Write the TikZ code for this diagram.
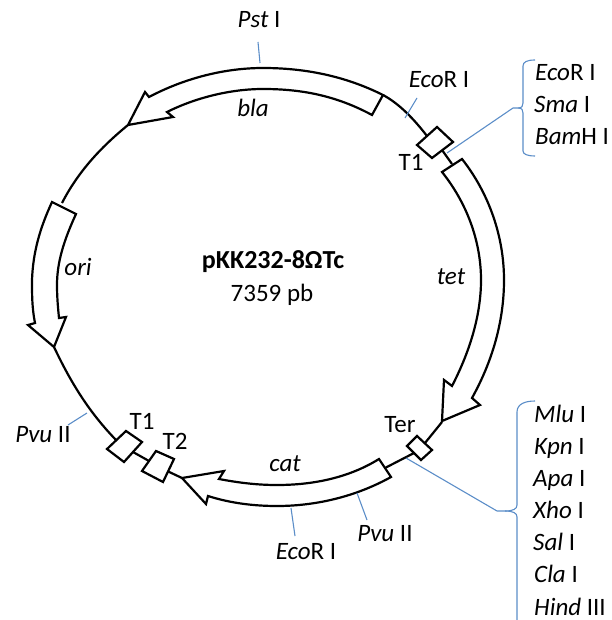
\documentclass[tikz,border=0pt]{standalone}
\usepackage{fontspec}
\setmainfont{Carlito}
\definecolor{linkblue}{RGB}{91,141,200}
\tikzset{
 backbone/.style={draw=black,line width=2.2pt,line join=miter},
 feature/.style={draw=black,line width=2.2pt,line join=miter,fill=white},
 site/.style={draw=linkblue,line width=1.1pt},
 lab/.style={inner sep=0pt,anchor=base,font=\fontsize{25}{27}\selectfont,text=black},
 listlab/.style={lab,anchor=base west}
}
\newcommand{\ita}[1]{\textit{#1}}
\begin{document}
\begin{tikzpicture}[x=1pt,y=-1pt]
\useasboundingbox (0,0) rectangle (611,620);
% backbone
\draw[backbone] (383,95) .. controls (396,102) and (410,114) .. (427,136);
\draw[backbone] (442,150) -- (452,164);
\draw[backbone] (442,422) -- (425,443);
\draw[backbone] (414,453) -- (385,468);
\draw[backbone] (182,478) -- (165,470);
\draw[backbone] (149,461) -- (133,452);
\draw[backbone] (116,440) .. controls (90,413) and (72,385) .. (54,347);
\draw[backbone] (62,203) .. controls (78,172) and (100,148) .. (128,125);
% bla
\draw[feature] (383,95) -- (372,115) .. controls (335,95) and (300,89) .. (263,89)
 .. controls (230,89) and (195,98) .. (167,112) -- (173,117) -- (128,125) -- (145,92) -- (149,97)
 .. controls (185,78) and (225,68) .. (263,68) .. controls (305,68) and (345,76) .. (383,95) -- cycle;
% ori
\draw[feature] (52,202) -- (76,214) .. controls (64,240) and (57,262) .. (57,285)
 .. controls (57,297) and (58,308) .. (59,318) -- (66,317) -- (54,347) -- (28,325) -- (35,323)
 .. controls (32,308) and (32,295) .. (32,280) .. controls (33,252) and (40,228) .. (52,202) -- cycle;
% tet
\draw[feature] (462,159) -- (442,172) .. controls (466,202) and (481,240) .. (481,280)
 .. controls (481,318) and (468,355) .. (452,386) -- (444,380) -- (442,421) -- (480,405) -- (472,398)
 .. controls (492,362) and (504,322) .. (504,280) .. controls (504,235) and (488,192) .. (462,159) -- cycle;
% cat
\draw[feature] (379,459) -- (391,477) .. controls (355,497) and (315,506) .. (277,506)
 .. controls (253,506) and (230,503) .. (208,496) -- (206,504) -- (182,478) -- (224,471) -- (219,479)
 .. controls (240,483) and (258,485) .. (277,485) .. controls (315,485) and (350,477) .. (379,459) -- cycle;
% boxes
\draw[feature] (437,127) -- (453,142) -- (432,158) -- (417,145) -- cycle;
\draw[feature] (417,436) -- (432,450) -- (421,460) -- (407,446) -- cycle;
\draw[feature] (126,431) -- (142,442) -- (124,462) -- (107,449) -- cycle;
\draw[feature] (156,451) -- (174,459) -- (163,482) -- (142,471) -- cycle;
% site lines
\coordinate (pstA) at (258,42); \coordinate (pstB) at (260,63);
\draw[site] (pstA) -- (pstB);
\coordinate (ecoA) at (417,98); \coordinate (ecoB) at (405,118);
\draw[site] (ecoA) -- (ecoB);
\coordinate (pvuA) at (68,425); \coordinate (pvuB) at (87,413);
\draw[site] (pvuA) -- (pvuB);
\coordinate (pvbA) at (357,493); \coordinate (pvbB) at (367,520);
\draw[site] (pvbA) -- (pvbB);
\coordinate (ecbA) at (291,508); \coordinate (ecbB) at (295,536);
\draw[site] (ecbA) -- (ecbB);
% upper brace
\draw[site] (447,153) -- (513,108) -- (518,108) .. controls (522,108) and (523,106) .. (523,103)
 -- (523,66) .. controls (523,62) and (527,60) .. (535,60);
\draw[site] (518,108) .. controls (522,108) and (523,110) .. (523,113)
 -- (523,151) .. controls (523,154) and (527,156) .. (535,156);
% lower brace
\draw[site] (406,458) -- (497,511) -- (505,511) .. controls (513,511) and (517,509) .. (517,505)
 -- (517,412) .. controls (517,404) and (525,401) .. (535,401);
\draw[site] (505,511) .. controls (513,511) and (517,513) .. (517,517) -- (517,620);
% labels
\node[lab] (pst) at (259,28) {\ita{Pst} I};
\node[lab] (bla) at (253,117) {\ita{bla}};
\node[lab] (ecol) at (439,88) {\ita{Eco}R I};
\node[lab] (t1a) at (411,171) {T1};
\node[listlab] (e1) at (535,81) {\ita{Eco}R I};
\node[listlab] (e2) at (534,113) {\ita{Sma} I};
\node[listlab] (e3) at (535,145) {\ita{Bam}H I};
\node[lab] (ori) at (78,275) {\ita{ori}};
\node[lab] (tet) at (451,284) {\ita{tet}};
\node[lab,font=\fontsize{26}{28}\selectfont\bfseries] (name) at (273,268) {pKK232-8ΩTc};
\node[lab] (size) at (272,301) {7359 pb};
\node[lab] (ter) at (400,432) {Ter};
\node[lab] (t1b) at (142,429) {T1};
\node[lab] (t2b) at (175,449) {T2};
\node[lab] (cat) at (285,471) {\ita{cat}};
\node[lab] (pvl) at (43,442) {\ita{Pvu} II};
\node[lab] (pvb) at (385,541) {\ita{Pvu} II};
\node[lab] (ecb) at (306,559) {\ita{Eco}R I};
\node[listlab] (m1) at (534,422) {\ita{Mlu} I};
\node[listlab] (m2) at (534,454) {\ita{Kpn} I};
\node[listlab] (m3) at (533,486) {\ita{Apa} I};
\node[listlab] (m4) at (533,518) {\ita{Xho} I};
\node[listlab] (m5) at (533,550) {\ita{Sal} I};
\node[listlab] (m6) at (534,582) {\ita{Cla} I};
\node[listlab] (m7) at (534,615) {\ita{Hind} III};
\end{tikzpicture}
\end{document}
